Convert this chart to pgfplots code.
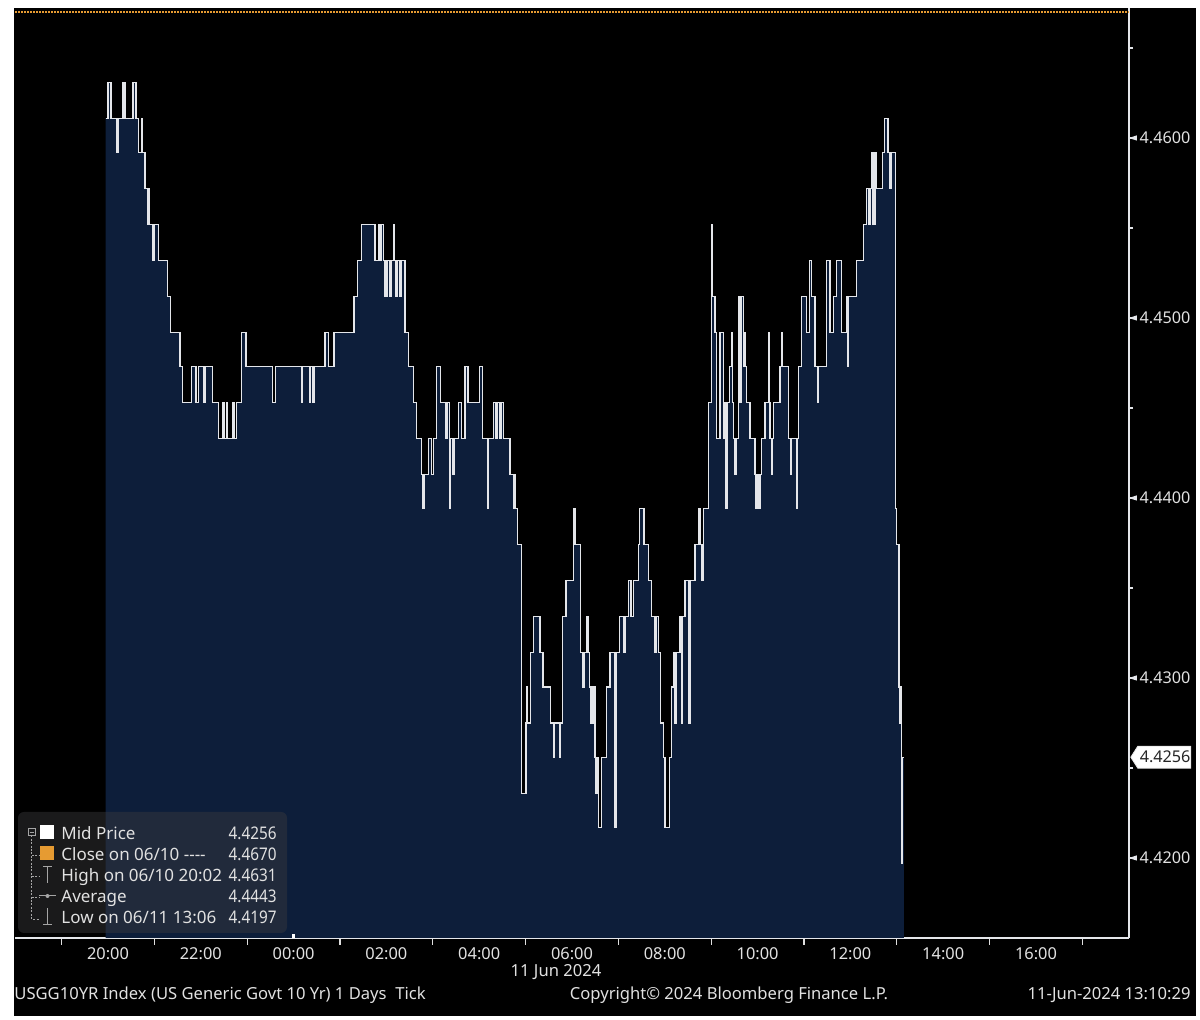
\documentclass[border=0pt]{standalone}
\usepackage{pgfplots}
\pgfplotsset{compat=1.18}
\usepackage{pgfplotstable}
\usepackage{fontspec}
\setmainfont{Noto Sans}
\newfontfamily\legfont{Noto Sans}
\newfontfamily\legnum{Noto Sans}[FakeStretch=0.88]
\definecolor{bbnavy}{RGB}{13,30,58}
\definecolor{bborange}{RGB}{230,155,50}
\definecolor{bbtext}{RGB}{225,225,225}
\definecolor{bbgray}{RGB}{165,165,165}
\definecolor{bbline}{RGB}{228,230,234}
\definecolor{legbg}{RGB}{58,58,62}

\pgfplotstableread{
h v
1.950 4.4611
2.000 4.4631
2.065 4.4611
2.194 4.4592
2.226 4.4611
2.323 4.4631
2.366 4.4611
2.539 4.4631
2.603 4.4611
2.653 4.4592
2.726 4.4611
2.748 4.4592
2.797 4.4572
2.851 4.4552
2.873 4.4572
2.890 4.4552
2.970 4.4532
2.991 4.4552
3.084 4.4532
3.278 4.4512
3.351 4.4492
3.552 4.4473
3.610 4.4453
3.804 4.4473
3.897 4.4453
3.946 4.4473
4.054 4.4453
4.090 4.4473
4.257 4.4453
4.377 4.4433
4.478 4.4453
4.500 4.4433
4.558 4.4453
4.580 4.4433
4.694 4.4453
4.722 4.4433
4.774 4.4453
4.882 4.4492
4.974 4.4473
5.550 4.4453
5.614 4.4473
6.175 4.4453
6.196 4.4473
6.338 4.4453
6.369 4.4473
6.412 4.4453
6.440 4.4473
6.677 4.4492
6.748 4.4473
6.871 4.4492
7.302 4.4512
7.373 4.4532
7.468 4.4552
7.754 4.4532
7.826 4.4552
7.862 4.4532
7.899 4.4552
7.933 4.4532
7.970 4.4512
8.010 4.4532
8.078 4.4512
8.106 4.4532
8.149 4.4552
8.170 4.4532
8.207 4.4512
8.245 4.4532
8.293 4.4512
8.321 4.4532
8.401 4.4492
8.472 4.4473
8.580 4.4453
8.653 4.4433
8.761 4.4413
8.789 4.4394
8.817 4.4413
8.903 4.4433
8.976 4.4413
9.011 4.4433
9.084 4.4473
9.171 4.4453
9.285 4.4433
9.313 4.4453
9.356 4.4394
9.377 4.4433
9.436 4.4413
9.463 4.4433
9.550 4.4453
9.623 4.4433
9.694 4.4473
9.759 4.4453
10.002 4.4473
10.076 4.4433
10.183 4.4394
10.205 4.4433
10.304 4.4453
10.362 4.4433
10.390 4.4453
10.448 4.4433
10.476 4.4453
10.520 4.4433
10.664 4.4413
10.735 4.4394
10.756 4.4413
10.778 4.4394
10.821 4.4374
10.916 4.4236
11.009 4.4275
11.030 4.4295
11.045 4.4275
11.110 4.4314
11.166 4.4334
11.311 4.4314
11.375 4.4295
11.541 4.4275
11.597 4.4256
11.619 4.4275
11.727 4.4256
11.757 4.4275
11.800 4.4334
11.871 4.4354
12.028 4.4374
12.044 4.4394
12.071 4.4374
12.188 4.4314
12.237 4.4295
12.259 4.4314
12.324 4.4334
12.345 4.4314
12.373 4.4295
12.410 4.4275
12.453 4.4295
12.496 4.4256
12.517 4.4236
12.539 4.4256
12.567 4.4217
12.632 4.4256
12.748 4.4295
12.819 4.4314
12.927 4.4217
12.964 4.4314
13.020 4.4334
13.121 4.4314
13.142 4.4334
13.214 4.4354
13.272 4.4334
13.321 4.4354
13.429 4.4374
13.451 4.4394
13.552 4.4374
13.645 4.4354
13.718 4.4334
13.789 4.4314
13.817 4.4334
13.860 4.4314
13.912 4.4275
13.968 4.4256
14.005 4.4217
14.097 4.4256
14.149 4.4295
14.183 4.4314
14.219 4.4275
14.245 4.4314
14.328 4.4334
14.364 4.4275
14.386 4.4334
14.436 4.4354
14.507 4.4275
14.543 4.4354
14.651 4.4374
14.737 4.4394
14.759 4.4374
14.802 4.4354
14.830 4.4394
14.938 4.4453
15.011 4.4552
15.024 4.4512
15.082 4.4492
15.119 4.4433
15.190 4.4492
15.261 4.4433
15.298 4.4453
15.319 4.4394
15.341 4.4453
15.390 4.4473
15.442 4.4492
15.464 4.4453
15.477 4.4433
15.513 4.4413
15.535 4.4433
15.584 4.4512
15.621 4.4453
15.658 4.4512
15.692 4.4473
15.714 4.4492
15.735 4.4473
15.765 4.4453
15.837 4.4433
15.944 4.4413
15.966 4.4394
15.987 4.4413
16.030 4.4394
16.060 4.4413
16.089 4.4433
16.160 4.4453
16.231 4.4492
16.252 4.4453
16.268 4.4433
16.304 4.4413
16.326 4.4433
16.339 4.4453
16.483 4.4473
16.520 4.4492
16.541 4.4473
16.662 4.4433
16.714 4.4413
16.735 4.4433
16.843 4.4394
16.865 4.4433
16.878 4.4473
16.951 4.4512
17.058 4.4492
17.114 4.4532
17.166 4.4512
17.237 4.4473
17.287 4.4453
17.308 4.4473
17.489 4.4532
17.561 4.4492
17.632 4.4512
17.705 4.4532
17.813 4.4492
17.921 4.4512
17.933 4.4473
17.955 4.4512
18.136 4.4532
18.278 4.4552
18.347 4.4572
18.385 4.4552
18.420 4.4572
18.466 4.4592
18.490 4.4552
18.530 4.4592
18.567 4.4572
18.692 4.4592
18.731 4.4611
18.810 4.4592
18.843 4.4572
18.875 4.4592
18.972 4.4394
18.994 4.4374
19.047 4.4295
19.065 4.4275
19.086 4.4295
19.101 4.4256
19.112 4.4197
19.125 4.4256
19.155 4.4256
}\yielddata

\begin{document}
\begin{tikzpicture}[x=1pt,y=1pt]
\fill[white] (0,0) rectangle (600,510);
\fill[black] (6.75,2) rectangle (598,506);
\begin{axis}[
  at={(7.6pt,41pt)}, anchor=south west,
  scale only axis, width=556.8pt, height=465pt,
  xmin=0, xmax=24, ymin=4.415556, ymax=4.467222,
  clip mode=individual,
  axis x line*=bottom, axis y line*=right,
  axis line style={-, draw=bbline, line width=0.7pt},
  tick align=outside,
  major tick length=3.5pt, minor tick length=2.2pt,
  xtick={1,3,...,23},
  xticklabels={,,,,,,,,,,,},
  extra x ticks={2,4,...,22},
  extra x tick labels={20:00,22:00,00:00,02:00,04:00,06:00,08:00,10:00,12:00,14:00,16:00},
  extra x tick style={major tick length=0pt},
  x tick label style={font=\fontsize{8.2}{9}\selectfont, text=bbtext, yshift=-1.1pt},
  xtick style={draw=white!75!gray, line width=0.6pt},
  ytick={4.42,4.43,4.44,4.45,4.46},
  minor ytick={4.415,4.425,4.435,4.445,4.455,4.465},
  ytick style={draw=bbline, line width=0.6pt},
  minor y tick style={draw=bbline, line width=0.6pt},
  scaled y ticks=false,
  yticklabel style={font=\fontsize{8.1}{9}\selectfont, text=bbtext, anchor=west, xshift=-1.6pt,
    /pgf/number format/fixed, /pgf/number format/fixed zerofill,
    /pgf/number format/precision=4, /pgf/number format/assume math mode=true},
]
\addplot[const plot, fill=bbnavy, draw=none] table[x=h, y=v] {\yielddata} \closedcycle;
\addplot[const plot, draw=bbline, line width=0.65pt] table[x=h, y=v] {\yielddata};
\addplot[bborange, line width=1pt, dash pattern=on 0.8pt off 0.7pt] coordinates {(0,4.4670) (24,4.4670)};
\pgfplotsinvokeforeach{4.42,4.43,4.44,4.45,4.46}{
  \fill[bbline] (axis cs:24,#1) -- ([xshift=4pt,yshift=1.3pt]axis cs:24,#1) -- ([xshift=4pt,yshift=-1.3pt]axis cs:24,#1) -- cycle;
}
\fill[white, draw=white!80!gray, line width=0.4pt] ([xshift=1pt]axis cs:24,4.4256) -- ([xshift=4.5pt,yshift=5.5pt]axis cs:24,4.4256) -- ([xshift=31pt,yshift=5.5pt]axis cs:24,4.4256) -- ([xshift=31pt,yshift=-5.5pt]axis cs:24,4.4256) -- ([xshift=4.5pt,yshift=-5.5pt]axis cs:24,4.4256) -- cycle;
\node[anchor=west, text=black!85, font=\fontsize{8.1}{9}\selectfont, inner sep=0pt] at ([xshift=5.3pt]axis cs:24,4.4256) {4.4256};
\draw[white, line width=1.4pt] (rel axis cs:0.25,0) -- ([yshift=2pt]rel axis cs:0.25,0);
\end{axis}

% legend
\fill[legbg, fill opacity=0.45, rounded corners=3pt] (9,43.5) rectangle (143.5,104);
\draw[bbgray, line width=0.45pt] (14.2,92.3) rectangle (17.6,95.7);
\draw[bbgray, line width=0.45pt] (14.8,94) -- (17,94);
\draw[bbgray, line width=0.45pt, dash pattern=on 1pt off 0.7pt] (15.9,92.3) -- (15.9,50.5) -- (19.5,50.5);
\foreach \yy in {82.5,72,61.5}{\draw[bbgray, line width=0.45pt, dash pattern=on 1pt off 0.7pt] (15.9,\yy) -- (19.5,\yy);}
\fill[white] (20,90.3) rectangle (27,97.3);
\fill[bborange] (20,79.8) rectangle (27,86.8);
\draw[bbgray, line width=0.5pt] (21.5,76.8) -- (26,76.8) (23.75,76.8) -- (23.75,68.3);
\draw[bbgray, line width=0.5pt] (19.5,62) -- (28,62);
\fill[bbgray] (23.75,62) circle (1pt);
\draw[bbgray, line width=0.5pt] (21.5,47.6) -- (26,47.6) (23.75,47.6) -- (23.75,56);
\begin{scope}[every node/.style={inner sep=0pt, text=bbtext, font=\legfont\fontsize{8.5}{9}\selectfont}]
\node[anchor=base west] at (30.5,90.4) {Mid Price};
\node[anchor=base west] at (30.5,79.9) {Close on 06/10 -{}-{}-{}-};
\node[anchor=base west] at (30.5,69.4) {High on 06/10 20:02};
\node[anchor=base west] at (30.5,58.9) {Average};
\node[anchor=base west] at (30.5,48.4) {Low on 06/11 13:06};
\end{scope}
\begin{scope}[every node/.style={inner sep=0pt, text=bbtext, font=\legnum\fontsize{8.7}{9}\selectfont}]
\node[anchor=base east] at (138.5,90.4) {4.4256};
\node[anchor=base east] at (138.5,79.9) {4.4670};
\node[anchor=base east] at (138.5,69.4) {4.4631};
\node[anchor=base east] at (138.5,58.9) {4.4443};
\node[anchor=base east] at (138.5,48.4) {4.4197};
\end{scope}

% date and footer
\begin{scope}[every node/.style={inner sep=0pt, text=bbtext, font=\fontsize{8.3}{9}\selectfont}]
\node[anchor=base] at (278,21.6) {11 Jun 2024};
\node[anchor=base west] at (7,10.1) {USGG10YR Index (US Generic Govt 10 Yr) 1 Days\ \ Tick};
\node[anchor=base] at (364.5,10.1) {Copyright© 2024 Bloomberg Finance L.P.};
\node[anchor=base east] at (595.5,10.1) {11-Jun-2024 13:10:29};
\end{scope}
\pgfresetboundingbox
\useasboundingbox (0,0) rectangle (600,510);
\end{tikzpicture}
\end{document}
